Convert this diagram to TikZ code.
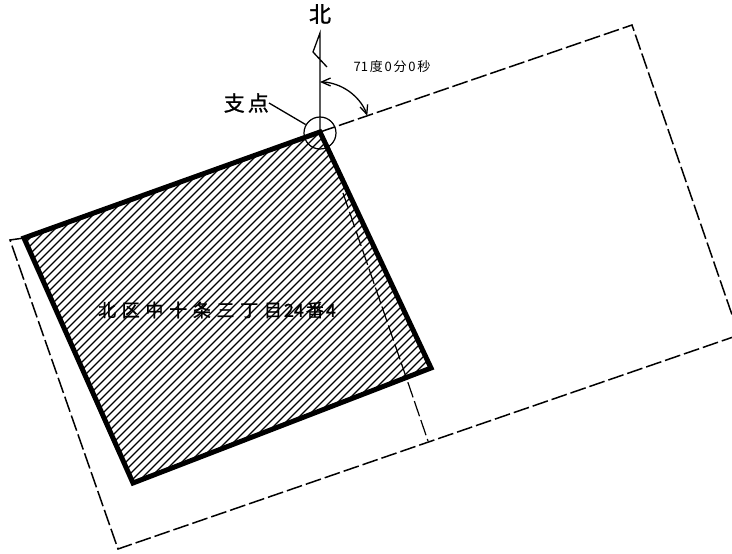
\documentclass[tikz,border=0pt]{standalone}
\usepackage{fontspec}
\setmainfont{Noto Sans CJK JP}
\newfontfamily\heavy[FakeBold=1.2]{Noto Sans CJK JP}
\usetikzlibrary{arrows.meta}
\tikzset{
  boundary/.style={line width=1.5pt,dash pattern=on 16pt off 4pt},
  parcel/.style={line width=5pt,line join=miter},
  hatchline/.style={line width=1.2pt},
  thinline/.style={line width=1.3pt},
  stick/.style={-{Straight Barb[length=9pt,width=8pt,line width=1.3pt]}},
  label/.style={inner sep=0pt,text=black}
}
\begin{document}
\begin{tikzpicture}[x=1pt,y=-1pt]
\useasboundingbox (0,0) rectangle (732,554);
\fill[white] (0,0) rectangle (732,554);
\coordinate (P) at (320,132);
\coordinate (B) at (431,368);
\coordinate (C) at (133,483);
\coordinate (D) at (24,238);
\coordinate (TR) at (632,25);
\coordinate (BR) at (739,335);
\coordinate (BL) at (118,549);
\coordinate (TL) at (10,240);
\coordinate (IN1) at (343,193);
\coordinate (IN2) at (428,441);
\coordinate (N0) at (320,33);
\coordinate (N1) at (313,52);
\coordinate (N2) at (327,67);
\coordinate (AM) at (345,88.7);
% hatching
\begin{scope}
\clip (P) -- (B) -- (C) -- (D) -- cycle;
\foreach \c in {260,268,...,810} {
  \draw[hatchline] (\c,0) -- (0,\c);
}
\end{scope}
% lot lines
\begin{scope}
\clip (0,0) rectangle (732,554);
\draw[boundary] (P) -- (TR) -- (BR) -- (BL) -- (TL) -- (D);
\draw[boundary,line width=1.2pt] (IN1) -- (IN2);
\end{scope}
\draw[parcel] (P) -- (B) -- (C) -- (D) -- cycle;
% north mark
\draw[thinline] (P) -- (N0) -- (N1) -- (N2);
\node[draw,circle,line width=1.2pt,minimum size=32pt,inner sep=0pt] (pivot) at (320,133) {};
\draw[thinline,stick] (AM) arc[start angle=-60,end angle=-19,radius=50];
\draw[thinline,stick] (AM) arc[start angle=-60,end angle=-90,radius=50];
% labels
\node[label,font=\heavy\fontsize{22}{22}\selectfont] (north) at (320,14) {北};
\node[label,font=\heavy\fontsize{21}{22}\selectfont,anchor=east] (shiten) at (269,103) {支\hspace{3pt}点};
\node[label,font=\fontsize{13}{13}\selectfont] (angle) at (392,67) {71\hspace{1.8pt}度\hspace{1.8pt}0\hspace{1.8pt}分\hspace{1.8pt}0\hspace{1.8pt}秒};
\draw[thinline] (shiten.east) -- (pivot);
\node[label,font=\heavy\fontsize{18}{18}\selectfont] (lot) at (217,310)
 {北\hspace{5.7pt}区\hspace{5.7pt}中\hspace{5.7pt}十\hspace{5.7pt}条\hspace{5.7pt}三\hspace{5.7pt}丁\hspace{5.7pt}目\hspace{2pt}24\hspace{2pt}番\hspace{2pt}4};
\end{tikzpicture}
\end{document}
